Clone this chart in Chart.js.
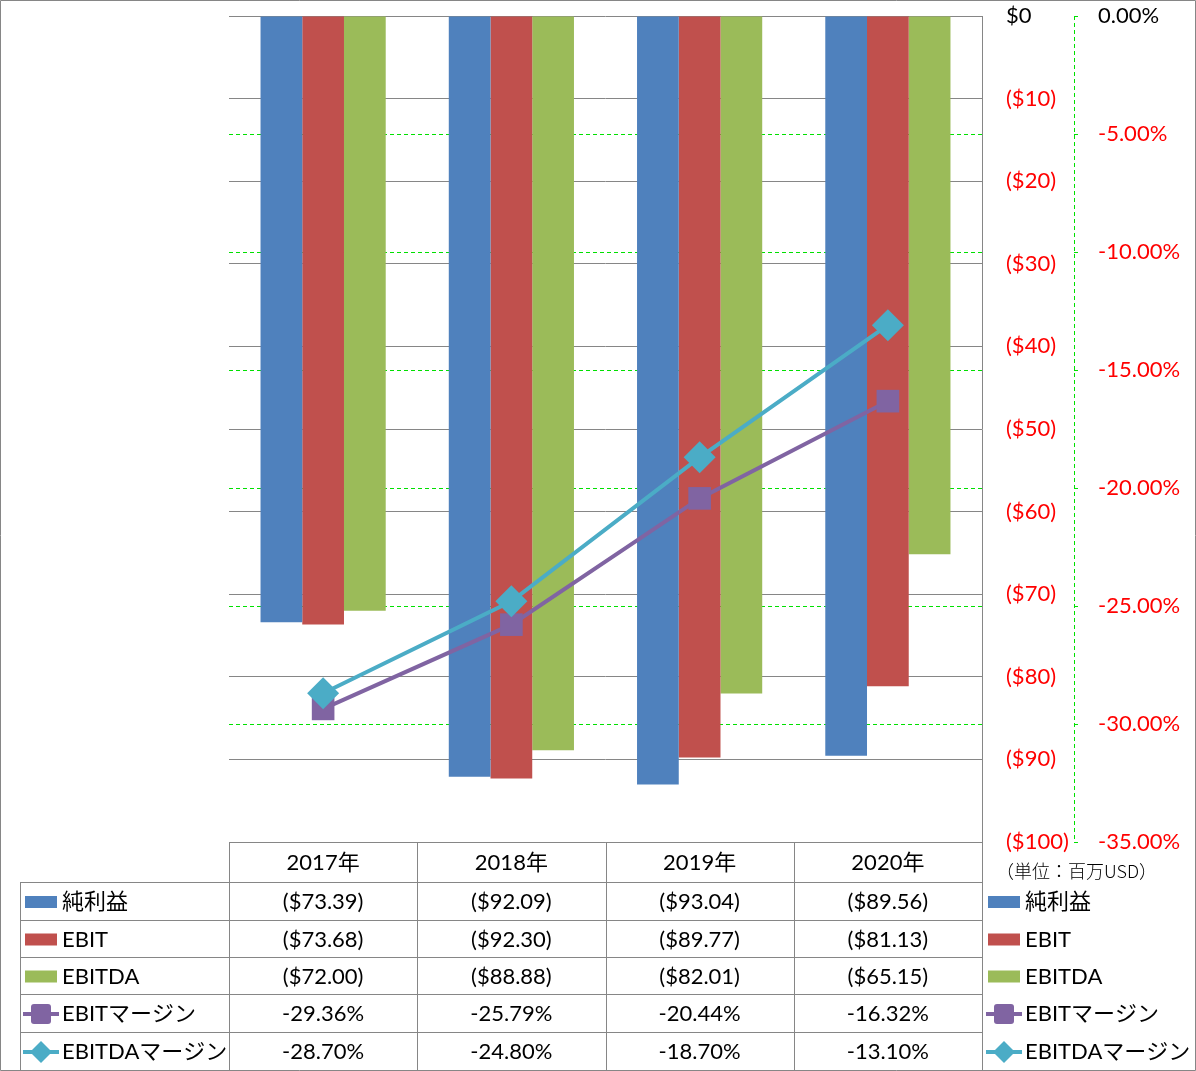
<!DOCTYPE html>
<html>
<head>
<meta charset="utf-8">
<script src="https://cdn.jsdelivr.net/npm/chart.js@4"></script>
<style>
  html, body { margin: 0; padding: 0; background: #fff; }
  #wrap { width: 1196px; height: 1071px; }
</style>
</head>
<body>
<div id="wrap"><canvas id="chart" width="1196" height="1071"></canvas></div>
<script>
// data
const categories = ["2017年", "2018年", "2019年", "2020年"];
const netIncome = [-73.39, -92.09, -93.04, -89.56];
const ebit = [-73.68, -92.30, -89.77, -81.13];
const ebitda = [-72.00, -88.88, -82.01, -65.15];
const ebitMargin = [-29.36, -25.79, -20.44, -16.32];
const ebitdaMargin = [-28.70, -24.80, -18.70, -13.10];
const seriesNames = ["純利益", "EBIT", "EBITDA", "EBITマージン", "EBITDAマージン"];
const unitLabel = "（単位：百万USD）";

const BLUE = "#4F81BD", RED = "#C0504D", GREEN = "#9BBB59", PURPLE = "#8064A2", TEAL = "#4BACC6";
const GRID = "#868686", LIME = "#00e000";
const FONT = "Lato, 'Noto Sans CJK JP', sans-serif";

function money(v) {
    return v === 0 ? "$0" : "($" + Math.abs(v).toFixed(2) + ")";
}
function moneyTick(v) {
    return v === 0 ? "$0" : "($" + Math.abs(v) + ")";
}
function pct(v) { return v.toFixed(2) + "%"; }

// table rows: values, formatter, legend key
const rows = [
    [netIncome, money, "box", BLUE],
    [ebit, money, "box", RED],
    [ebitda, money, "box", GREEN],
    [ebitMargin, pct, "rect", PURPLE],
    [ebitdaMargin, pct, "rectRot", TEAL]
];

function legendKey(ctx, kind, color, x, y) {
    ctx.save();
    if (kind == "box") {
        ctx.fillStyle = color;
        ctx.fillRect(x, y - 6, 32, 12);
    } else {
        ctx.strokeStyle = color;
        ctx.lineWidth = 4;
        ctx.beginPath();
        ctx.moveTo(x - 2, y);
        ctx.lineTo(x + 34, y);
        ctx.stroke();
        ctx.fillStyle = color;
        ctx.beginPath();
        if (kind == "rect") {
            ctx.roundRect(x + 6, y - 10, 20, 20, 3);
        } else {
            ctx.moveTo(x + 16, y - 11);
            ctx.lineTo(x + 27, y);
            ctx.lineTo(x + 16, y + 11);
            ctx.lineTo(x + 5, y);
            ctx.closePath();
        }
        ctx.fill();
    }
    ctx.restore();
}

const tablePlugin = {
    id: "dataTable",
    afterDraw(chart) {
        const ctx = chart.ctx;
        const area = chart.chartArea;
        const xs = chart.scales.x;
        const colW = (area.right - area.left) / categories.length;
        const rowY = [area.bottom, 882, 920, 957, 994, 1032, 1070];
        ctx.save();

        // dashed secondary axis line
        const ax = Math.round(chart.scales.y1.left) + 0.5;
        ctx.strokeStyle = LIME;
        ctx.setLineDash([4, 3]);
        ctx.beginPath();
        ctx.moveTo(ax, area.top);
        ctx.lineTo(ax, area.bottom);
        ctx.stroke();
        ctx.setLineDash([]);

        ctx.strokeStyle = GRID;
        ctx.lineWidth = 1;
        ctx.beginPath();
        ctx.rect(0.5, 0.5, 1195, 1070);
        ctx.moveTo(area.left, rowY[0] + 0.5);
        ctx.lineTo(area.right, rowY[0] + 0.5);
        for (let i = 1; i < rowY.length - 1; i++) {
            ctx.moveTo(20, rowY[i] + 0.5);
            ctx.lineTo(area.right, rowY[i] + 0.5);
        }
        for (let i = 0; i <= categories.length; i++) {
            const x = Math.round(area.left + colW * i) + 0.5;
            ctx.moveTo(x, rowY[0]);
            ctx.lineTo(x, 1070);
        }
        ctx.moveTo(20.5, rowY[1]);
        ctx.lineTo(20.5, 1070);
        ctx.stroke();

        ctx.fillStyle = "#000";
        ctx.font = "22px " + FONT;
        ctx.textAlign = "center";
        ctx.textBaseline = "middle";
        categories.forEach((c, i) => {
            ctx.fillText(c, xs.getPixelForValue(i), (rowY[0] + rowY[1]) / 2 + 1);
        });
        rows.forEach((r, j) => {
            const yc = (rowY[j + 1] + rowY[j + 2]) / 2 + 1;
            ctx.textAlign = "center";
            r[0].forEach((v, i) => {
                ctx.fillText(r[1](v), xs.getPixelForValue(i), yc);
            });
            ctx.textAlign = "left";
            legendKey(ctx, r[2], r[3], 25, yc);
            ctx.fillText(seriesNames[j], 62, yc);
            legendKey(ctx, r[2], r[3], 988, yc);
            ctx.fillText(seriesNames[j], 1025, yc);
        });

        ctx.font = "300 18px 'Noto Sans CJK JP', sans-serif";
        ctx.textAlign = "left";
        ctx.fillText(unitLabel, 996, 871);
        ctx.restore();
    }
};

function noPad(s, w) {
    s.width = w;
    s.paddingTop = 0;
    s.paddingBottom = 0;
}

new Chart(document.getElementById("chart"), {
    type: "bar",
    data: {
        labels: categories,
        datasets: [
            { label: seriesNames[0], data: netIncome, backgroundColor: BLUE, yAxisID: "y", order: 2 },
            { label: seriesNames[1], data: ebit, backgroundColor: RED, yAxisID: "y", order: 2 },
            { label: seriesNames[2], data: ebitda, backgroundColor: GREEN, yAxisID: "y", order: 2 },
            { type: "line", label: seriesNames[3], data: ebitMargin, yAxisID: "y1", order: 1,
              borderColor: PURPLE, backgroundColor: PURPLE, borderWidth: 4,
              pointStyle: "rect", pointRadius: 16, pointBorderWidth: 0 },
            { type: "line", label: seriesNames[4], data: ebitdaMargin, yAxisID: "y1", order: 0,
              borderColor: TEAL, backgroundColor: TEAL, borderWidth: 4,
              pointStyle: "rectRot", pointRadius: 16, pointBorderWidth: 0 }
        ]
    },
    options: {
        responsive: false,
        animation: false,
        devicePixelRatio: 1,
        layout: { padding: { left: 229, top: 15, right: 0, bottom: 229 } },
        categoryPercentage: 0.665,
        barPercentage: 1,
        plugins: { legend: { display: false }, tooltip: { enabled: false } },
        scales: {
            x: { display: false },
            y: {
                position: "right",
                min: -100, max: 0,
                ticks: {
                    stepSize: 10, padding: 24,
                    font: { family: FONT, size: 22 },
                    color: c => c.tick.value === 0 ? "#000" : "#ff0000",
                    callback: v => moneyTick(v)
                },
                grid: { color: GRID, drawTicks: false },
                border: { color: GRID },
                afterFit: s => noPad(s, 92)
            },
            y1: {
                position: "right",
                min: -35, max: 0,
                ticks: {
                    stepSize: 5, padding: 18,
                    font: { family: FONT, size: 22 },
                    color: c => c.tick.value === 0 ? "#000" : "#ff0000",
                    callback: v => pct(v)
                },
                grid: {
                    color: c => (c.tick && (c.tick.value === 0 || c.tick.value === -35)) ? "rgba(0,0,0,0)" : LIME,
                    tickColor: LIME, tickLength: 6, tickBorderDash: [4, 3]
                },
                border: { display: false, dash: [4, 3] },
                afterFit: s => noPad(s, 122)
            }
        }
    },
    plugins: [tablePlugin]
});
</script>
</body>
</html>
